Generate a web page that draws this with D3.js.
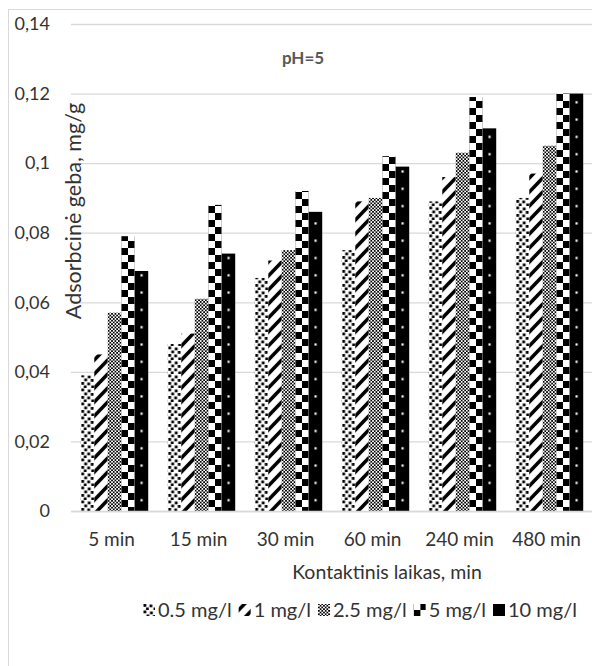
<!DOCTYPE html>
<html>
<head>
<meta charset="utf-8">
<script src="https://cdn.jsdelivr.net/npm/d3@7"></script>
<style>
  body { margin: 0; background: #fff; }
  text { font-family: Lato, "Open Sans", sans-serif; }
</style>
</head>
<body>
<div id="chart"></div>
<script>
var categories = ["5 min", "15 min", "30 min", "60 min", "240 min", "480 min"];
var seriesNames = ["0.5 mg/l", "1 mg/l", "2.5 mg/l", "5 mg/l", "10 mg/l"];
var s05 = [0.039, 0.048, 0.067, 0.075, 0.089, 0.090];
var s1 = [0.045, 0.051, 0.072, 0.089, 0.096, 0.097];
var s25 = [0.057, 0.061, 0.075, 0.090, 0.103, 0.105];
var s5 = [0.079, 0.088, 0.092, 0.102, 0.119, 0.120];
var s10 = [0.069, 0.074, 0.086, 0.099, 0.110, 0.120];
var yTicks = [0, 0.02, 0.04, 0.06, 0.08, 0.1, 0.12, 0.14];

var series = [s05, s1, s25, s5, s10];

var W = 592, H = 666;
var margin = {top: 24, right: -1, bottom: 155, left: 71};
var plotW = W - margin.left - margin.right;
var plotH = H - margin.top - margin.bottom;

var svg = d3.select("#chart").append("svg")
  .attr("width", W)
  .attr("height", H);

// chart border (cut off at right and bottom in the original)
svg.append("rect")
  .attr("x", 8.5).attr("y", 9.5)
  .attr("width", 620).attr("height", 680)
  .attr("fill", "none").attr("stroke", "#d9d9d9");

var x0 = d3.scaleBand().domain(categories).range([0, plotW])
  .paddingInner(0.225).paddingOuter(0.1125);
var x1 = d3.scaleBand().domain(d3.range(seriesNames.length)).range([0, x0.bandwidth()]);
var y = d3.scaleLinear().domain([0, 0.14]).range([plotH, 0]);

var bw = x1.bandwidth();

// fill patterns, in bar-local coordinates
var defs = svg.append("defs");

var p0 = defs.append("pattern").attr("id", "pat0")
  .attr("patternUnits", "userSpaceOnUse").attr("width", bw).attr("height", 14);
p0.append("rect").attr("width", bw).attr("height", 14).attr("fill", "#fff");
[[0.5, 0.5], [7, 1.5], [3.5, 4.5], [10, 5], [0.5, 8], [6.5, 8.5], [3, 11.5], [10.5, 11.5]].forEach(function(d) {
  p0.append("rect").attr("x", d[0]).attr("y", d[1]).attr("width", 2.8).attr("height", 2.8).attr("fill", "#000");
});

var p1 = defs.append("pattern").attr("id", "pat1")
  .attr("patternUnits", "userSpaceOnUse").attr("width", bw).attr("height", 14);
p1.append("rect").attr("width", bw).attr("height", 14).attr("fill", "#fff");
p1.append("path")
  .attr("d", "M" + (-bw) + ",14L0,0M0,14L" + bw + ",0M" + bw + ",14L" + (2 * bw) + ",0" +
    "M" + (-bw) + ",28L" + bw + ",0M0,28L" + (2 * bw) + ",0M" + (-bw) + ",0L0,-14M0,0L" + bw + ",-14")
  .attr("stroke", "#000").attr("stroke-width", 3.6);

var p2 = defs.append("pattern").attr("id", "pat2")
  .attr("patternUnits", "userSpaceOnUse").attr("width", 3.4).attr("height", 3.4);
p2.append("rect").attr("width", 3.4).attr("height", 3.4).attr("fill", "#fff");
p2.append("rect").attr("width", 1.7).attr("height", 1.7).attr("fill", "#000");
p2.append("rect").attr("x", 1.7).attr("y", 1.7).attr("width", 1.7).attr("height", 1.7).attr("fill", "#000");

var p3 = defs.append("pattern").attr("id", "pat3")
  .attr("patternUnits", "userSpaceOnUse").attr("width", bw).attr("height", 14);
p3.append("rect").attr("width", bw).attr("height", 14).attr("fill", "#fff");
p3.append("rect").attr("width", bw / 2).attr("height", 7).attr("fill", "#000");
p3.append("rect").attr("x", bw / 2).attr("y", 7).attr("width", bw / 2).attr("height", 7).attr("fill", "#000");

var p4 = defs.append("pattern").attr("id", "pat4")
  .attr("patternUnits", "userSpaceOnUse").attr("width", bw).attr("height", 17.3);
p4.append("rect").attr("width", bw).attr("height", 17.3).attr("fill", "#000");
p4.append("rect").attr("x", bw / 2 - 1).attr("y", 8).attr("width", 2.2).attr("height", 2.2).attr("fill", "#fff");

var g = svg.append("g")
  .attr("transform", "translate(" + margin.left + "," + margin.top + ")");

// gridlines
g.append("g")
  .call(d3.axisLeft(y).tickValues(yTicks).tickSize(-plotW + 1).tickFormat(""))
  .call(function(a) {
    a.select(".domain").remove();
    a.selectAll("line").attr("stroke", "#d9d9d9").attr("stroke-width", 1.3);
  });

// y tick labels
g.append("g")
  .call(d3.axisLeft(y).tickValues(yTicks).tickSize(0).tickPadding(21)
    .tickFormat(function(d) { return d3.format(",")(d).replace(".", ","); }))
  .call(function(a) {
    a.select(".domain").remove();
    a.selectAll("text").attr("fill", "#333").style("font-size", "18px");
  });

// bars
var groups = g.selectAll("g.cat")
  .data(categories)
  .enter().append("g")
  .attr("class", "cat")
  .attr("transform", function(d) { return "translate(" + x0(d) + ",0)"; });

groups.selectAll("g.bar")
  .data(function(d, i) { return series.map(function(s, k) { return {k: k, v: s[i]}; }); })
  .enter().append("g")
  .attr("class", "bar")
  .attr("transform", function(d) { return "translate(" + x1(d.k) + ",0)"; })
  .append("rect")
  .attr("x", 0)
  .attr("y", function(d) { return y(d.v); })
  .attr("width", bw)
  .attr("height", function(d) { return plotH - y(d.v); })
  .attr("fill", function(d) { return "url(#pat" + d.k + ")"; });

// x axis
g.append("g")
  .attr("transform", "translate(0," + plotH + ")")
  .call(d3.axisBottom(x0).tickSize(0).tickPadding(22))
  .call(function(a) {
    a.select(".domain").attr("stroke", "#d9d9d9").attr("stroke-width", 1.3);
    a.selectAll("text").attr("fill", "#333").style("font-size", "19px")
      .attr("dx", "-3");
  });

// title
svg.append("text")
  .attr("x", 303).attr("y", 64)
  .attr("text-anchor", "middle")
  .attr("fill", "#595959")
  .style("font-size", "17px").style("font-weight", "bold")
  .text("pH=5");

// axis titles
svg.append("text")
  .attr("transform", "translate(81,211) rotate(-90)")
  .attr("text-anchor", "middle")
  .attr("fill", "#333")
  .style("font-size", "21.5px")
  .text("Adsorbcinė geba, mg/g");

svg.append("text")
  .attr("x", 387).attr("y", 579)
  .attr("text-anchor", "middle")
  .attr("fill", "#333")
  .style("font-size", "19.5px")
  .text("Kontaktinis laikas, min");

// legend
var legend = svg.append("g").attr("transform", "translate(143,610)");
var lx = 0;
seriesNames.forEach(function(name, k) {
  var item = legend.append("g").attr("transform", "translate(" + lx + ",0)");
  item.append("rect")
    .attr("x", 0).attr("y", -6).attr("width", 12).attr("height", 12)
    .attr("fill", "url(#pat" + k + ")");
  var t = item.append("text")
    .attr("x", 15).attr("y", 7)
    .attr("fill", "#333")
    .style("font-size", "20px")
    .text(name);
  lx += 15 + t.node().getComputedTextLength() + 7;
});
</script>
</body>
</html>
